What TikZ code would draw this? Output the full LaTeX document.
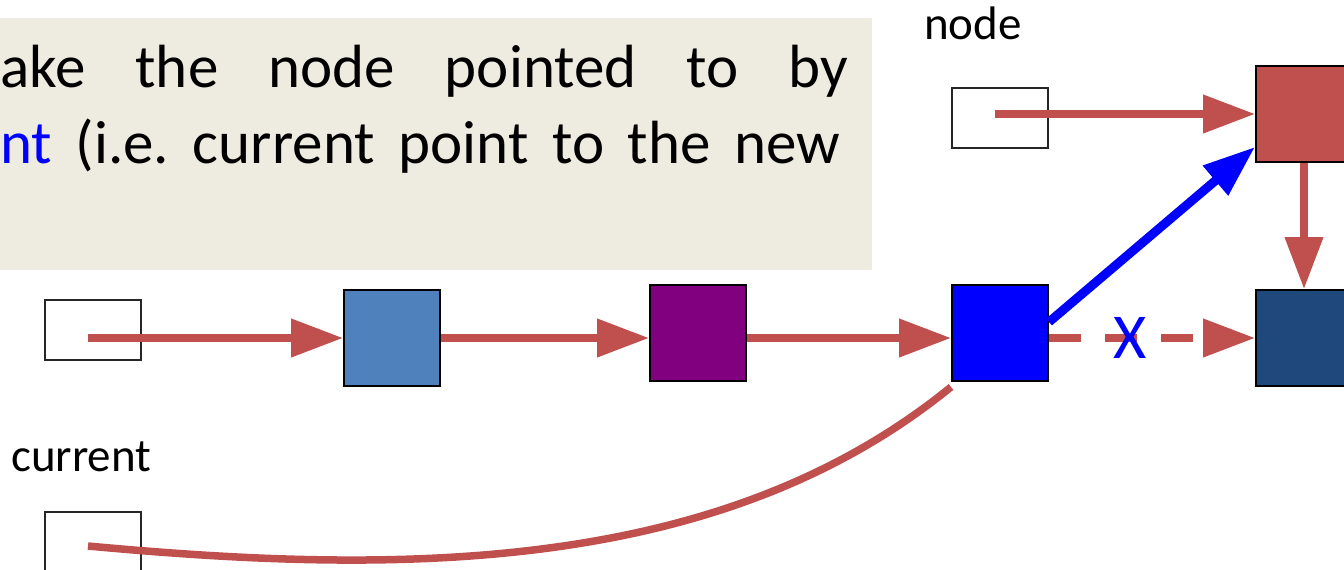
\documentclass[tikz,border=0pt]{standalone}
\usepackage{fontspec}
\setmainfont{Carlito}
\usetikzlibrary{arrows.meta}
\frenchspacing

\definecolor{linkred}{HTML}{C0504D}
\definecolor{lightnode}{HTML}{4F81BD}
\definecolor{darknode}{HTML}{1F497D}
\definecolor{purplenode}{HTML}{800080}
\definecolor{bluenode}{HTML}{0000FF}
\definecolor{notebg}{HTML}{EEECE1}

\tikzset{
  ptrbox/.style={draw=black!85, line width=1.5pt, fill=white, minimum width=96pt, minimum height=60pt, inner sep=0pt},
  listnode/.style={draw=black, line width=2pt, minimum width=96pt, minimum height=96pt, inner sep=0pt},
  link/.style={draw=linkred, line width=7.5pt, -{Triangle[length=52pt,width=37pt]}},
  brokenlink/.style={link, dash pattern=on 32pt off 24pt},
  newlink/.style={draw=bluenode, line width=9pt, -{Triangle[length=52pt,width=37pt]}},
  curlink/.style={draw=linkred, line width=7.5pt},
  label/.style={inner sep=0pt, font=\fontsize{47}{56}\selectfont},
  bodytext/.style={inner sep=0pt, anchor=base west, font=\fontsize{61}{72}\selectfont}
}

\begin{document}
\begin{tikzpicture}[x=1pt, y=-1pt]
  \useasboundingbox (0,0) rectangle (1344,570);
  \clip (0,0) rectangle (1344,570);

  % explanatory note on the tan panel
  \fill[notebg] (0,18) rectangle (872,270);
  \node[bodytext] (line1) at (0,87) {\hbox to 848pt{ake\hfill the\hfill node\hfill pointed\hfill to\hfill by}};
  \node[bodytext] (line2) at (0,163) {\hbox to 840pt{{\color{bluenode}nt} (i.e. current point to the new}};

  % pointer variables
  \node[label, anchor=base west] (nodelbl) at (924,39) {node};
  \node[label, anchor=base west] (curlbl) at (11,471) {current};
  \node[ptrbox] (head) at (93,330) {};
  \node[ptrbox] (nodeptr) at (1000,118) {};
  \node[ptrbox] (curptr) at (93,542) {};

  % list nodes
  \node[listnode, fill=lightnode] (n1) at (392,338) {};
  \node[listnode, fill=purplenode] (n2) at (698,333) {};
  \node[listnode, fill=bluenode] (n3) at (1000,333) {};
  \node[listnode, fill=linkred] (newn) at (1304,114) {};
  \node[listnode, fill=darknode] (n4) at (1304,338) {};

  % links
  \draw[link] ([xshift=-5pt]head.center |- n1.west) -- (n1.west);
  \draw[link] (n1.east) -- (n1.east -| n2.west);
  \draw[link] (n2.east |- n1.east) -- (n3.west |- n1.east);
  \draw[brokenlink] (n3.east |- n4.west) -- (n4.west);
  \node[inner sep=0pt, text=bluenode, font=\fontsize{64}{72}\selectfont] (cross) at (1130,338) {X};
  \draw[link] ([xshift=-5pt]nodeptr.center |- newn.west) -- (newn.west);
  \draw[link] (newn.south) -- (n4.north);
  \draw[newlink] ([yshift=11pt]n3.east) -- ([yshift=-33pt]newn.west);
  \draw[curlink] ([xshift=-5pt,yshift=-4pt]curptr.center) .. controls (400,575) and (720,575) .. ([yshift=-5pt]n3.south west);
\end{tikzpicture}
\end{document}
